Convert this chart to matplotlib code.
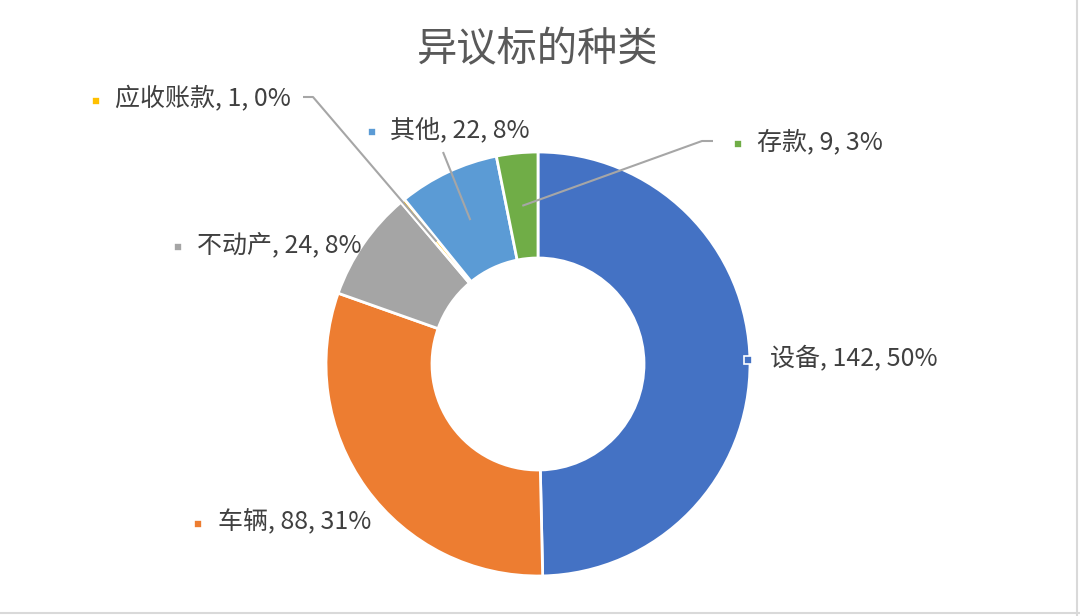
import numpy as np
import matplotlib.pyplot as plt
from matplotlib.lines import Line2D

plt.rcParams['font.family'] = ['Noto Sans CJK SC', 'DejaVu Sans']

# Data
categories = ['设备', '车辆', '不动产', '应收账款', '其他', '存款']
values = [142, 88, 24, 1, 22, 9]
colors = ['#4472C4', '#ED7D31', '#A5A5A5', '#FFC000', '#5B9BD5', '#70AD47']

W, H = 1080, 616
cx, cy = 538, H - 364   # donut centre (pixels, y up)
r_out, r_in = 212, 106

fig = plt.figure(figsize=(W / 100, H / 100), dpi=100)
ax = fig.add_axes([0, 0, 1, 1])
ax.set_xlim(0, W)
ax.set_ylim(0, H)
ax.set_aspect('equal')
ax.axis('off')

wedges, _ = ax.pie(values, colors=colors, startangle=90, counterclock=False,
                   center=(cx, cy), radius=r_out,
                   wedgeprops=dict(width=r_out - r_in, edgecolor='white', linewidth=2))
ax.set_xlim(0, W)
ax.set_ylim(0, H)

fig.text(538 / W, 1 - 50 / H, '异议标的种类', ha='center', va='center',
         fontsize=29, color='#595959')

# label layout: (marker x, text x, text y) in pixels from top-left
label_pos = [(748, 770, 358), (198, 218, 522), (178, 197, 245),
             (96, 115, 99), (372, 390, 130), (738, 757, 142)]
# leader line start points (pixels) for small slices
leaders = {3: [(303, 97), (313, 97)], 4: [(443, 152)], 5: [(713, 141), (702, 141)]}

total = sum(values)
r_mid = (r_out + r_in) / 2
for i, (cat, v) in enumerate(zip(categories, values)):
    mx, tx, ty = label_pos[i]
    pct = round(v / total * 100)
    ax.text(tx, H - ty, f'{cat}, {v}, {pct}%', ha='left', va='center',
            fontsize=18, color='#404040')
    ax.plot(mx, H - ty - 2, marker='s', markersize=5.5, color=colors[i],
            markeredgecolor='white', markeredgewidth=1.2)
    if i in leaders:
        w = wedges[i]
        ang = np.deg2rad((w.theta1 + w.theta2) / 2)
        ex, ey = cx + r_mid * np.cos(ang), cy + r_mid * np.sin(ang)
        pts = leaders[i]
        xs = [p[0] for p in pts] + [ex]
        ys = [H - p[1] for p in pts] + [ey]
        ax.plot(xs, ys, color='#A6A6A6', linewidth=1.5, solid_capstyle='butt')

# light frame at the right and bottom edges
fig.add_artist(Line2D([1077 / W, 1077 / W], [0, 1], color='#D9D9D9', linewidth=1.5))
fig.add_artist(Line2D([0, 1], [3 / H, 3 / H], color='#D9D9D9', linewidth=1.5))

fig.savefig('out.png', dpi=100, facecolor='white')
